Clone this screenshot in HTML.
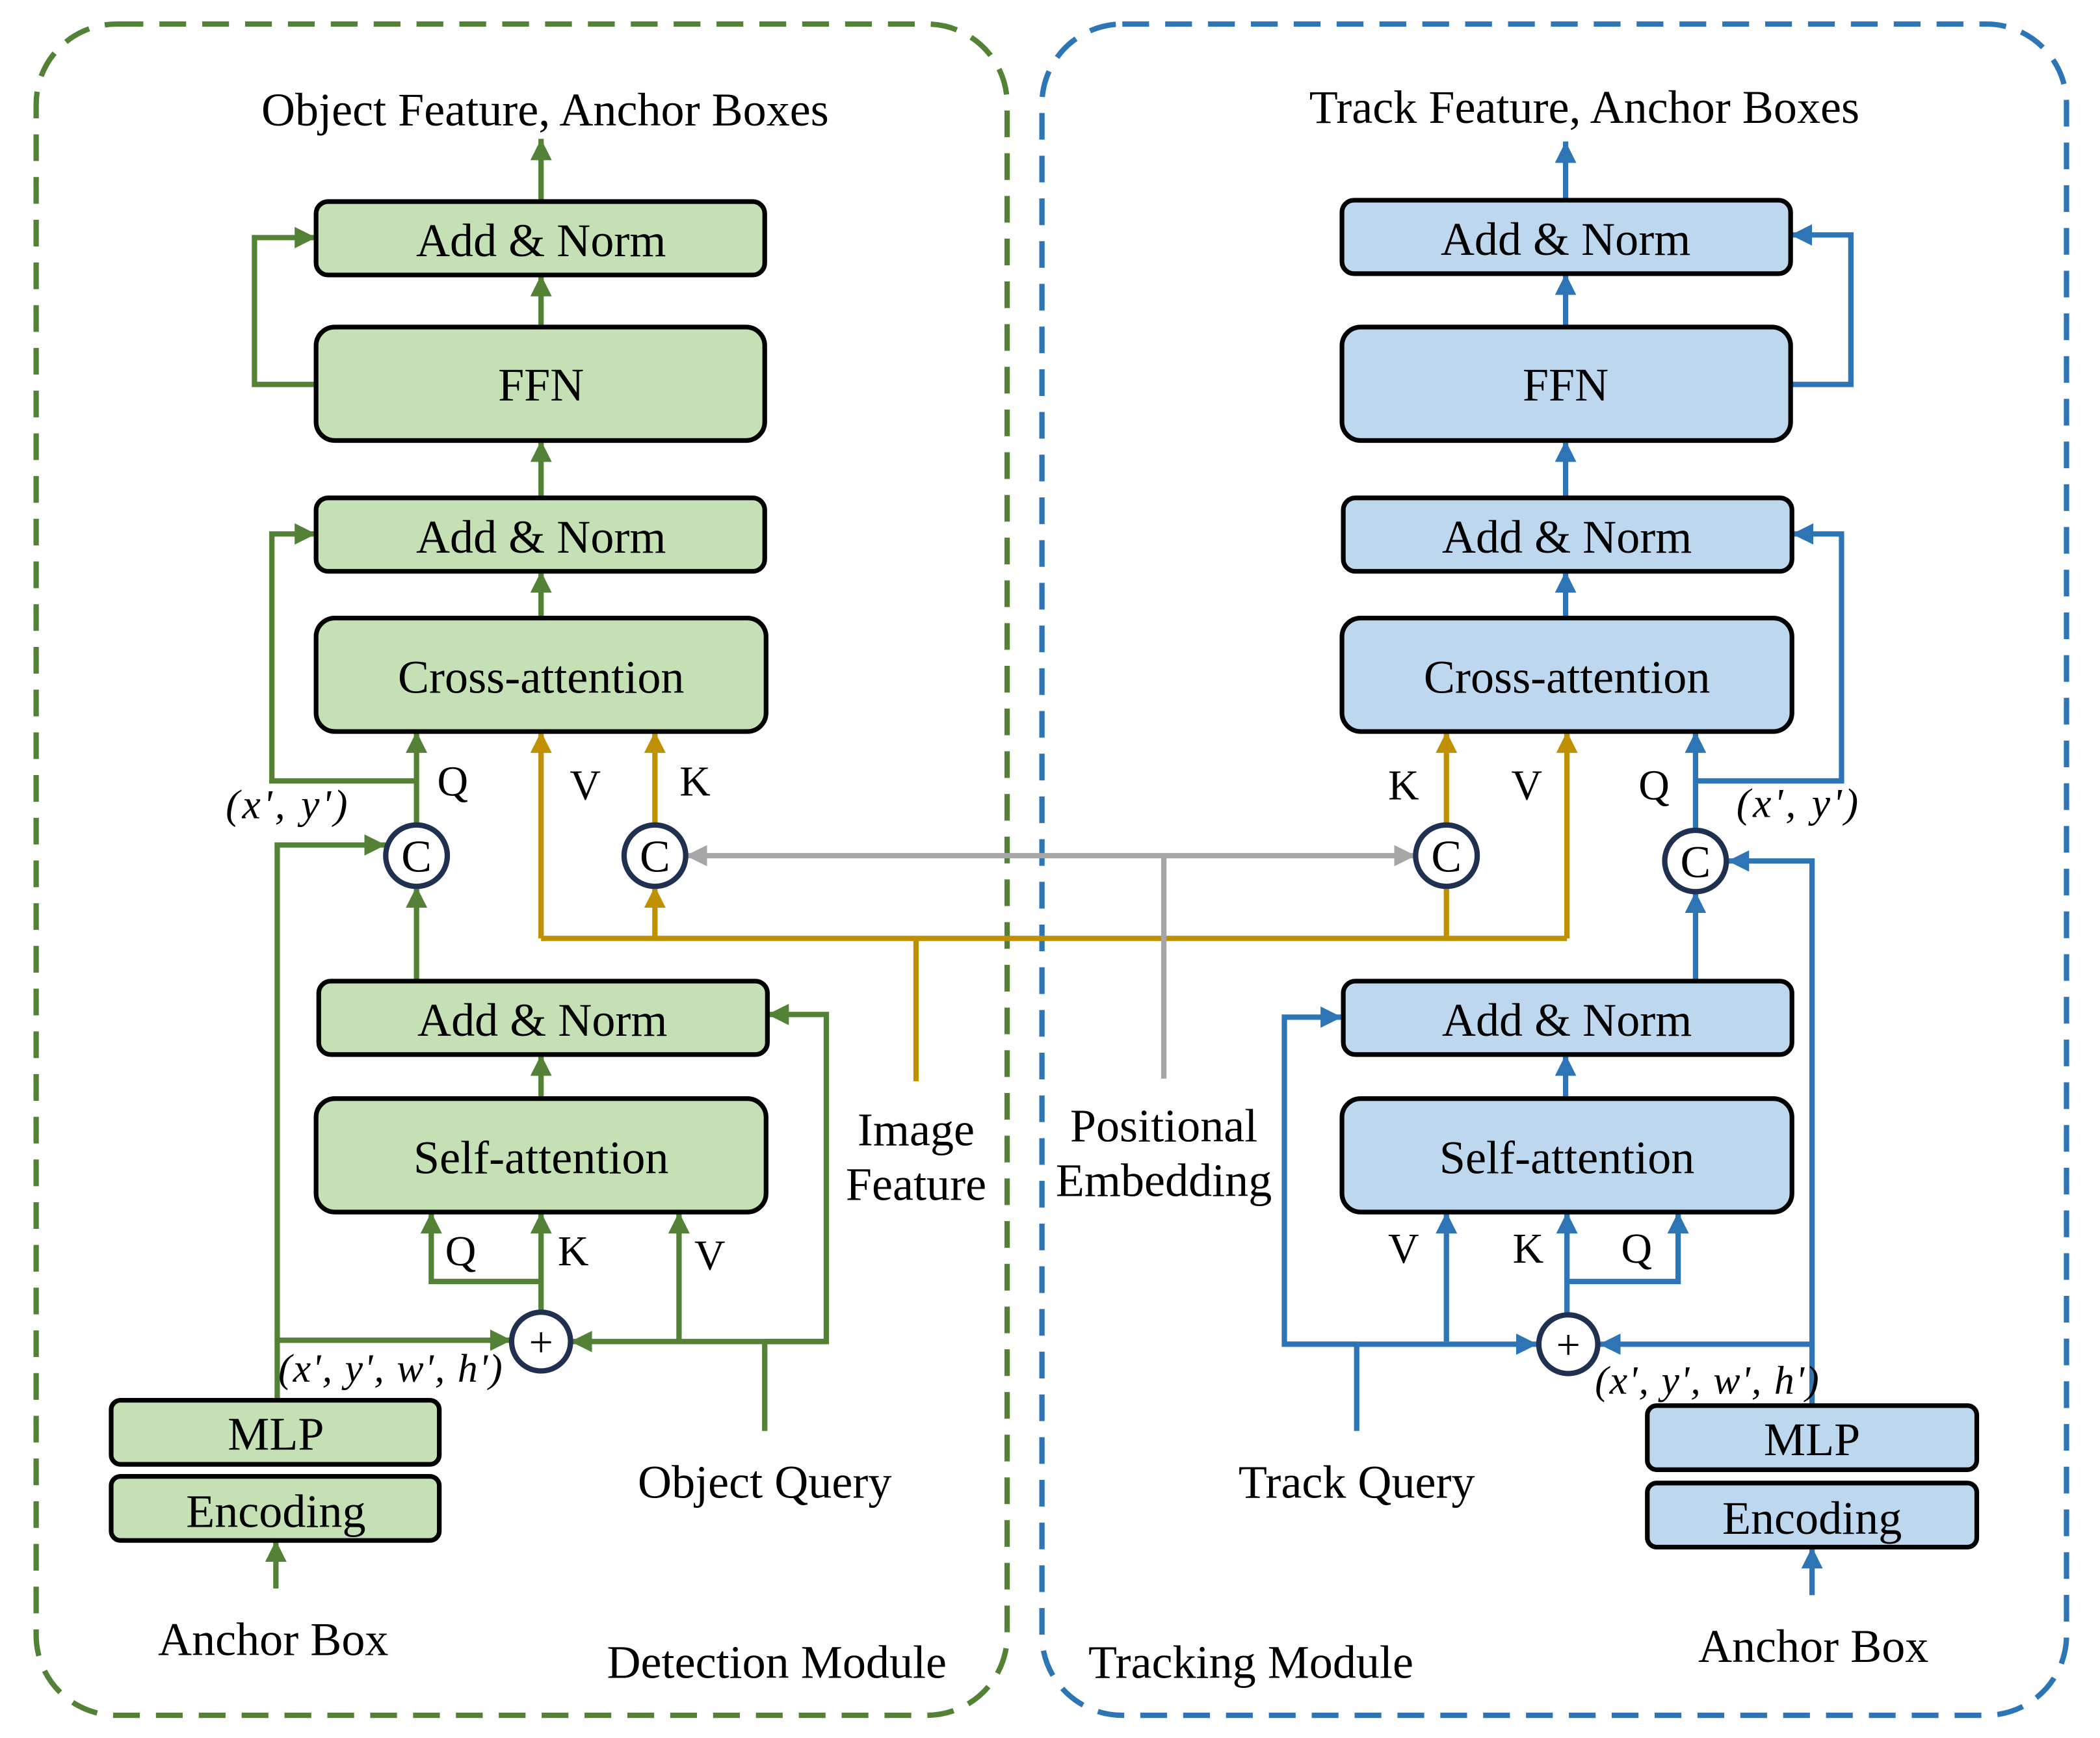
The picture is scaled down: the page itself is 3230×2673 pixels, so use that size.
<!DOCTYPE html>
<html><head><meta charset="utf-8"><style>
html,body{margin:0;padding:0;background:#fff;}
svg{display:block;}
text{font-family:"Liberation Serif",serif;fill:#000;}
</style></head><body>
<svg width="3230" height="2673" viewBox="0 0 1568 1302" preserveAspectRatio="none" xmlns="http://www.w3.org/2000/svg">
<defs>
<marker id="ag" markerUnits="userSpaceOnUse" markerWidth="18" markerHeight="18" refX="16" refY="8" orient="auto"><path d="M0,0 L16,8 L0,16 Z" fill="#538135"/></marker>
<marker id="ab" markerUnits="userSpaceOnUse" markerWidth="18" markerHeight="18" refX="16" refY="8" orient="auto"><path d="M0,0 L16,8 L0,16 Z" fill="#2E75B6"/></marker>
<marker id="ay" markerUnits="userSpaceOnUse" markerWidth="18" markerHeight="18" refX="16" refY="8" orient="auto"><path d="M0,0 L16,8 L0,16 Z" fill="#BF9000"/></marker>
<marker id="ax" markerUnits="userSpaceOnUse" markerWidth="18" markerHeight="18" refX="16" refY="8" orient="auto"><path d="M0,0 L16,8 L0,16 Z" fill="#A6A6A6"/></marker>
</defs>
<rect x="27" y="18" width="725" height="1267" rx="60" fill="none" stroke="#538135" stroke-width="4" stroke-dasharray="20 12"/>
<rect x="778" y="18" width="765" height="1267" rx="60" fill="none" stroke="#2E75B6" stroke-width="4" stroke-dasharray="20 12"/>

<g fill="none" stroke="#BF9000" stroke-width="4">
<path d="M684,810 V703 M404,703 H1170" />
<path d="M404,703 V548" marker-end="url(#ay)"/>
<path d="M489,703 V664" marker-end="url(#ay)"/>
<path d="M489,618 V548" marker-end="url(#ay)"/>
<path d="M1080,703 V664"/>
<path d="M1080,618 V548" marker-end="url(#ay)"/>
<path d="M1170,703 V548" marker-end="url(#ay)"/>
</g>
<g fill="none" stroke="#A6A6A6" stroke-width="4">
<path d="M869,808 V641"/>
<path d="M869,641 H512" marker-end="url(#ax)"/>
<path d="M869,641 H1057" marker-end="url(#ax)"/>
</g>

<g fill="none" stroke="#538135" stroke-width="4">
<path d="M404,151 V104" marker-end="url(#ag)"/>
<path d="M404,245 V206" marker-end="url(#ag)"/>
<path d="M236,288 H190 V178 H236" marker-end="url(#ag)"/>
<path d="M404,373 V330" marker-end="url(#ag)"/>
<path d="M404,463 V428" marker-end="url(#ag)"/>
<path d="M311,618 V548" marker-end="url(#ag)"/>
<path d="M311,585 H203 V400 H236" marker-end="url(#ag)"/>
<path d="M311,735 V664" marker-end="url(#ag)"/>
<path d="M404,823 V790" marker-end="url(#ag)"/>
<path d="M207,1049 V633 H288" marker-end="url(#ag)"/>
<path d="M207,1004 H382" marker-end="url(#ag)"/>
<path d="M404,983 V908" marker-end="url(#ag)"/>
<path d="M404,960 H322 V908" marker-end="url(#ag)"/>
<path d="M507,1005 V908" marker-end="url(#ag)"/>
<path d="M571,1072 V1005 M617,1005 H426" marker-end="url(#ag)"/>
<path d="M571,1005 H617 V760 H573" marker-end="url(#ag)"/>
<path d="M206,1190 V1154" marker-end="url(#ag)"/>
</g>

<g fill="none" stroke="#2E75B6" stroke-width="4">
<path d="M1169,150 V106" marker-end="url(#ab)"/>
<path d="M1169,245 V205" marker-end="url(#ab)"/>
<path d="M1337,288 H1382 V176 H1337" marker-end="url(#ab)"/>
<path d="M1169,373 V330" marker-end="url(#ab)"/>
<path d="M1169,463 V428" marker-end="url(#ab)"/>
<path d="M1266,622 V548" marker-end="url(#ab)"/>
<path d="M1266,585 H1375 V400 H1338" marker-end="url(#ab)"/>
<path d="M1266,735 V668" marker-end="url(#ab)"/>
<path d="M1169,823 V790" marker-end="url(#ab)"/>
<path d="M1353,1053 V645 H1290" marker-end="url(#ab)"/>
<path d="M1353,1007 H1194" marker-end="url(#ab)"/>
<path d="M1170,985 V908" marker-end="url(#ab)"/>
<path d="M1170,960 H1253 V908" marker-end="url(#ab)"/>
<path d="M1080,1005 V908" marker-end="url(#ab)"/>
<path d="M1013,1072 V1007 M959,1007 H1148" marker-end="url(#ab)"/>
<path d="M1013,1007 H959 V762 H1002" marker-end="url(#ab)"/>
<path d="M1353,1195 V1159" marker-end="url(#ab)"/>
</g>

<g stroke="#000" stroke-width="3.5" fill="#C5E0B4">
<rect x="236" y="151" width="335" height="55" rx="9"/>
<rect x="236" y="245" width="335" height="85" rx="14"/>
<rect x="236" y="373" width="335" height="55" rx="9"/>
<rect x="236" y="463" width="336" height="85" rx="14"/>
<rect x="238" y="735" width="335" height="55" rx="9"/>
<rect x="236" y="823" width="336" height="85" rx="14"/>
<rect x="83" y="1049" width="245" height="48" rx="7"/>
<rect x="83" y="1106" width="245" height="48" rx="7"/>
</g>
<g stroke="#000" stroke-width="3.5" fill="#BDD7EE">
<rect x="1002" y="150" width="335" height="55" rx="9"/>
<rect x="1002" y="245" width="335" height="85" rx="14"/>
<rect x="1003" y="373" width="335" height="55" rx="9"/>
<rect x="1002" y="463" width="336" height="85" rx="14"/>
<rect x="1003" y="735" width="335" height="55" rx="9"/>
<rect x="1002" y="823" width="336" height="85" rx="14"/>
<rect x="1230" y="1053" width="246" height="48" rx="7"/>
<rect x="1230" y="1111" width="246" height="48" rx="7"/>
</g>

<g fill="#fff" stroke="#1F3050" stroke-width="4">
<circle cx="311" cy="641" r="23"/><circle cx="489" cy="641" r="23"/>
<circle cx="1080" cy="641" r="23"/><circle cx="1266" cy="645" r="23"/>
<circle cx="404" cy="1005" r="22"/><circle cx="1171" cy="1007" r="22"/>
</g>
<g font-size="34" text-anchor="middle">
<text x="311" y="653">C</text><text x="489" y="653">C</text>
<text x="1080" y="653">C</text><text x="1266" y="657">C</text>
<text x="404" y="1016" font-size="32">+</text><text x="1171" y="1018" font-size="32">+</text>
</g>

<g font-size="35" text-anchor="middle">
<text x="404" y="192">Add &amp; Norm</text>
<text x="404" y="300">FFN</text>
<text x="404" y="414">Add &amp; Norm</text>
<text x="404" y="519">Cross-attention</text>
<text x="405" y="776">Add &amp; Norm</text>
<text x="404" y="879">Self-attention</text>
<text x="206" y="1086">MLP</text>
<text x="206" y="1144">Encoding</text>
<text x="1169" y="191">Add &amp; Norm</text>
<text x="1169" y="300">FFN</text>
<text x="1170" y="414">Add &amp; Norm</text>
<text x="1170" y="519">Cross-attention</text>
<text x="1170" y="776">Add &amp; Norm</text>
<text x="1170" y="879">Self-attention</text>
<text x="1353" y="1090">MLP</text>
<text x="1353" y="1149">Encoding</text>

<text x="407" y="94">Object Feature, Anchor Boxes</text>
<text x="1183" y="92">Track Feature, Anchor Boxes</text>
<text x="684" y="858">Image</text><text x="684" y="899">Feature</text>
<text x="869" y="855">Positional</text><text x="869" y="896">Embedding</text>
<text x="204" y="1240">Anchor Box</text>
<text x="1354" y="1245">Anchor Box</text>
<text x="571" y="1122">Object Query</text>
<text x="1013" y="1122">Track Query</text>
<text x="580" y="1257">Detection Module</text>
<text x="934" y="1257">Tracking Module</text>

<text x="338" y="596" font-size="32">Q</text>
<text x="437" y="599" font-size="32">V</text>
<text x="519" y="596" font-size="32">K</text>
<text x="1048" y="599" font-size="32">K</text>
<text x="1140" y="599" font-size="32">V</text>
<text x="1235" y="599" font-size="32">Q</text>
<text x="344" y="948" font-size="32">Q</text>
<text x="428" y="948" font-size="32">K</text>
<text x="530" y="951" font-size="32">V</text>
<text x="1048" y="946" font-size="32">V</text>
<text x="1141" y="946" font-size="32">K</text>
<text x="1222" y="946" font-size="32">Q</text>
<text x="215" y="613" font-size="31" font-style="italic" letter-spacing="2">(x', y')</text>
<text x="1343" y="612" font-size="31" font-style="italic" letter-spacing="2">(x', y')</text>
<text x="292" y="1035" font-size="30" font-style="italic" letter-spacing="1">(x', y', w', h')</text>
<text x="1275" y="1044" font-size="30" font-style="italic" letter-spacing="1">(x', y', w', h')</text>
</g>
</svg>
</body></html>
